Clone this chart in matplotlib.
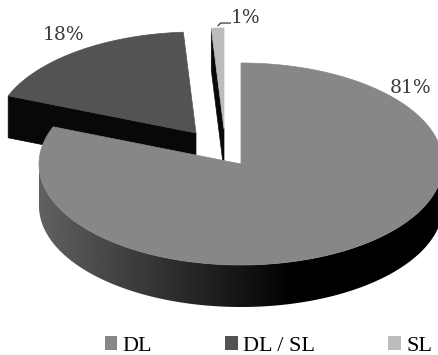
import numpy as np
import matplotlib.pyplot as plt
from matplotlib.patches import Polygon, Patch

# data
labels = ['DL', 'DL / SL', 'SL']
shares = [81, 18, 1]

# look / layout (pixel space of the 438x355 canvas)
top_colors = ['#878787', '#535353', '#bcbcbc']
face_color = '#080808'
text_color = '#3a3a3a'
center = (241, 164)
rx, ry, depth = 202, 101, 42
offsets = [(0, 0), (-45, -31), (-17, -35)]      # explode shift per slice
label_pos = [(411, 88), (64, 35), (246, 18)]


def rim(cx, cy, ang, dz=0.0):
    a = np.radians(ang)
    return cx + rx * np.cos(a), cy - ry * np.sin(a) + dz


def draw_wall(ax, cx, cy, a0, a1):
    # outer wall, only the front half (sin < 0) can be seen
    angs = np.linspace(a1, a0, 600)
    angs = angs[np.sin(np.radians(angs)) < 0]
    if len(angs) < 2:
        return
    top = [rim(cx, cy, a) for a in angs]
    bot = [rim(cx, cy, a, depth) for a in angs[::-1]]
    poly = Polygon(top + bot, closed=True, facecolor='none', edgecolor='none')
    ax.add_patch(poly)

    # horizontal shading: grey on the left side, black towards the right
    xs = np.linspace(cx - rx, cx + rx, 400)
    cosv = (xs - cx) / rx
    shade = np.clip(0.08 - 0.30 * cosv, 0, 1)
    img = np.tile(shade, (2, 1))
    im = ax.imshow(img, cmap='gray', vmin=0, vmax=1, aspect='auto',
                   extent=(cx - rx, cx + rx, cy + ry + depth + 2, cy - 2),
                   interpolation='bilinear', zorder=1)
    im.set_clip_path(poly)


def draw_slice(ax, cx, cy, a0, a1, color):
    # a0 > a1, slice runs clockwise from a0 to a1
    draw_wall(ax, cx, cy, a0, a1)

    # radial cut faces that point to the viewer
    for ang, visible in ((a0, np.cos(np.radians(a0)) < -1e-6),
                         (a1, np.cos(np.radians(a1)) > 1e-6)):
        if not visible:
            continue
        r_top = rim(cx, cy, ang)
        r_bot = rim(cx, cy, ang, depth)
        ax.add_patch(Polygon([(cx, cy), r_top, r_bot, (cx, cy + depth)],
                             closed=True, facecolor=face_color,
                             edgecolor=face_color, linewidth=0.5, zorder=1))

    # top surface
    arc = [rim(cx, cy, a) for a in np.linspace(a0, a1, 200)]
    ax.add_patch(Polygon([(cx, cy)] + arc, closed=True, facecolor=color,
                         edgecolor=color, linewidth=0.5, zorder=1))


fig = plt.figure(figsize=(4.38, 3.55), dpi=100)
ax = fig.add_axes([0, 0, 1, 1])

# slice angles, starting at 12 o'clock and going clockwise
bounds = []
start = 90.0
for s in shares:
    end = start - s * 3.6
    bounds.append((start, end))
    start = end

# paint back to front
order = sorted(range(len(shares)), key=lambda i: offsets[i][1])
for i in order:
    a0, a1 = bounds[i]
    cx = center[0] + offsets[i][0]
    cy = center[1] + offsets[i][1]
    draw_slice(ax, cx, cy, a0, a1, top_colors[i])

ax.set_xlim(0, 438)
ax.set_ylim(355, 0)
ax.axis('off')

# percentage labels
for i, s in enumerate(shares):
    ax.text(label_pos[i][0], label_pos[i][1], f'{s}%', ha='center',
            va='center', fontsize=13.5, family='DejaVu Serif', color=text_color)

# leader line for the thin slice
a0, a1 = bounds[2]
lx, ly = rim(center[0] + offsets[2][0], center[1] + offsets[2][1],
             0.5 * (a0 + a1))
tx, ty = label_pos[2]
ax.plot([lx, lx + 3, tx - 15], [ly - 2, ly - 5, ly - 5], color=text_color,
        lw=0.9, solid_capstyle='butt')

handles = [Patch(facecolor=c, edgecolor='none') for c in top_colors]
fig.legend(handles, labels, loc='center', bbox_to_anchor=(0.613, 1 - 346 / 355),
           ncol=3, frameon=False, borderpad=0, handlelength=0.55,
           handleheight=0.55, handletextpad=0.25, columnspacing=3.3,
           prop={'family': 'Liberation Serif', 'size': 16})

fig.savefig('out.png', dpi=100)
